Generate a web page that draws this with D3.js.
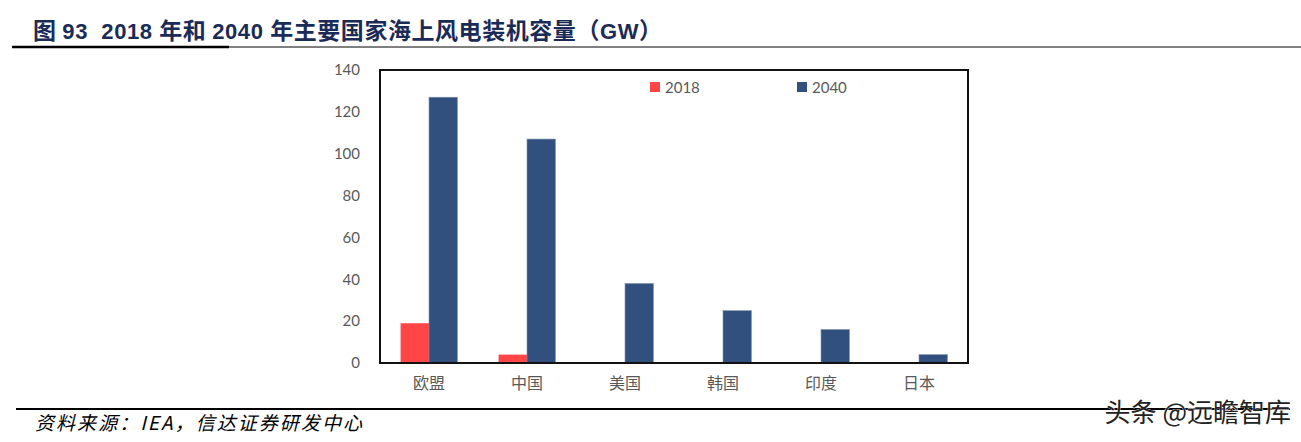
<!DOCTYPE html>
<html><head><meta charset="utf-8">
<script src="https://cdn.jsdelivr.net/npm/d3@7"></script>
<style>body{margin:0;background:#fff}svg{display:block}</style>
</head><body>
<script>
const categories = ["欧盟","中国","美国","韩国","印度","日本"];
const seriesNames = ["2018","2040"];
const values2018 = [19, 4, 0, 0, 0, 0];
const values2040 = [127, 107, 38, 25, 16, 4];
const yTicks = [0,20,40,60,80,100,120,140];
const colors = ["#FF4545","#31507D"];
const titleParts = [["图 ",1],["93  2018 ",0],["年和 ",1],["2040 ",0],["年主要国家海上风电装机容量（",1],["GW",0],["）",1]];

const W=1301,H=442;
const svg=d3.select("body").append("svg").attr("width",W).attr("height",H);
const L=380,R=968,T=70,B=363;

// title
const tt=svg.append("text").attr("x",33).attr("y",39)
  .attr("font-weight","bold").attr("fill","#1b2b57")
  .style("white-space","pre")
  .attr("textLength",629).attr("lengthAdjust","spacing");
titleParts.forEach(p=>{
  tt.append("tspan").text(p[0])
    .attr("font-family",p[1]?"'Noto Sans CJK SC',sans-serif":"'Liberation Sans',sans-serif")
    .attr("font-size",p[1]?23:22);
});
svg.append("line").attr("x1",12).attr("x2",229).attr("y1",47).attr("y2",47).attr("stroke","#000").attr("stroke-width",2.5);
svg.append("line").attr("x1",229).attr("x2",W).attr("y1",47).attr("y2",47).attr("stroke","#000").attr("stroke-width",1);

const x0=d3.scaleBand().domain(categories).range([L,R]).paddingInner(0.42).paddingOuter(0.21);
const x1=d3.scaleBand().domain(seriesNames).range([0,x0.bandwidth()]);
const y=d3.scaleLinear().domain([0,140]).range([B,T]);

const data=categories.map((c,i)=>({c, v:[values2018[i],values2040[i]]}));
const g=svg.append("g");
data.forEach(d=>{
  seriesNames.forEach((s,j)=>{
    if(d.v[j]<=0) return;
    g.append("rect").attr("x",x0(d.c)+x1(s)).attr("width",x1.bandwidth())
     .attr("y",y(d.v[j])).attr("height",B-y(d.v[j]))
     .attr("fill",colors[j]).attr("stroke",j===1?"#7f93b3":"none").attr("stroke-width",0.6);
  });
});

// y axis ticks (labels only)
const ya=svg.append("g").attr("transform",`translate(${L},0)`)
  .call(d3.axisLeft(y).tickValues(yTicks).tickSize(0).tickPadding(20));
ya.select(".domain").remove();
ya.selectAll("text").attr("font-family","Lato,'Open Sans',sans-serif").attr("font-size",15).attr("fill","#595959");

// x axis labels
const xa=svg.append("g").attr("transform",`translate(0,${B})`)
  .call(d3.axisBottom(x0).tickSize(0).tickPadding(15));
xa.select(".domain").remove();
xa.selectAll("text").attr("font-family","'Noto Sans CJK SC',sans-serif").attr("font-size",16).attr("fill","#595959");

// plot border
svg.append("rect").attr("x",L).attr("y",T).attr("width",R-L).attr("height",B-T)
  .attr("fill","none").attr("stroke","#111").attr("stroke-width",2);

// legend
const legX=[650,797];
seriesNames.forEach((s,j)=>{
  svg.append("rect").attr("x",legX[j]).attr("y",82).attr("width",10).attr("height",10).attr("fill",colors[j]);
  svg.append("text").attr("x",legX[j]+15).attr("y",93).text(s)
    .attr("font-family","Lato,'Open Sans',sans-serif").attr("font-size",15).attr("fill","#595959");
});

// bottom line & source
svg.append("line").attr("x1",16).attr("x2",1290).attr("y1",409).attr("y2",409).attr("stroke","#000").attr("stroke-width",2);
svg.append("text").attr("x",35).attr("y",430)
  .attr("font-family","'Noto Sans CJK SC',sans-serif").attr("font-style","italic")
  .attr("font-size",19).attr("fill","#000")
  .attr("textLength",327).attr("lengthAdjust","spacing")
  .text("资料来源：IEA，信达证券研发中心");

// watermark
svg.append("text").attr("x",1291).attr("y",422).attr("text-anchor","end")
  .attr("font-family","'Noto Sans CJK SC',sans-serif").attr("font-size",26)
  .attr("fill","#222").attr("stroke","#fff").attr("stroke-width",0.8).attr("paint-order","stroke")
  .text("头条 @远瞻智库");
</script>
</body></html>
